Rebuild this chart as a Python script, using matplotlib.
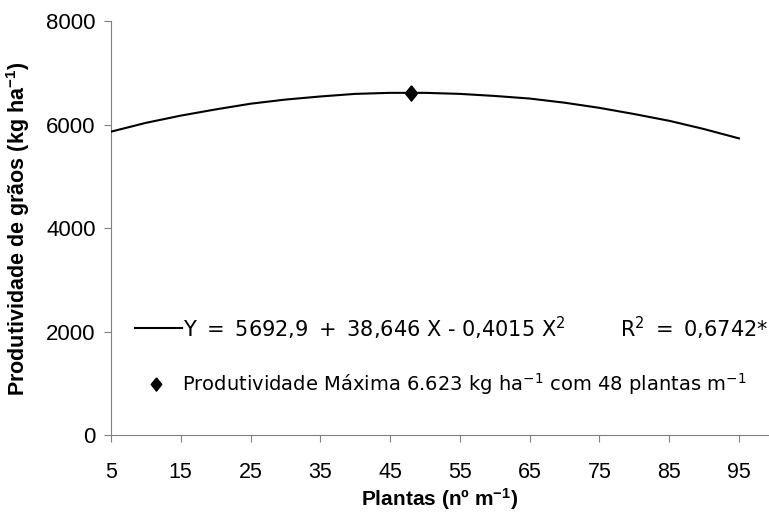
import matplotlib
matplotlib.use("Agg")
import matplotlib.pyplot as plt

# --- values ---
plantas = [5, 10, 15, 20, 25, 30, 35, 40, 45, 50, 55, 60, 65, 70, 75, 80, 85, 90, 95]
produtividade = [5870, 6040, 6180, 6300, 6410, 6490, 6550, 6600, 6620, 6620,
                 6600, 6560, 6510, 6430, 6330, 6210, 6080, 5920, 5740]
x_max, y_max = 48, 6623
xticks = [5, 15, 25, 35, 45, 55, 65, 75, 85, 95]
yticks = [0, 2000, 4000, 6000, 8000]

plt.rcParams["font.family"] = ["Liberation Sans", "DejaVu Sans"]
plt.rcParams["mathtext.fontset"] = "custom"
plt.rcParams["mathtext.rm"] = "Liberation Sans"

diamond = [(0, 1), (0.8, 0), (0, -1), (-0.8, 0), (0, 1)]

fig = plt.figure(figsize=(7.69, 5.15), dpi=100)
ax = fig.add_axes([0.1443, 0.1544, 0.8557, 0.804])

ax.plot(plantas, produtividade, color="black", lw=1.5, zorder=3)
ax.plot([x_max], [y_max], marker=diamond, color="black", ms=11, zorder=4)

ax.set_xlim(5, 99.3)
ax.set_ylim(0, 8000)
ax.set_xticks(xticks)
ax.set_yticks(yticks)
ax.tick_params(length=5, direction="out", color="#808080")
ax.tick_params(axis="x", pad=14)
ax.tick_params(axis="y", pad=6, labelsize=16)
for lbl in ax.get_xticklabels():
    lbl.set_family(["Liberation Sans Narrow", "Liberation Sans"])
    lbl.set_fontsize(15.5)
for s in ["top", "right"]:
    ax.spines[s].set_visible(False)
for s in ["left", "bottom"]:
    ax.spines[s].set_color("#808080")

ax.set_xlabel(r"Plantas (nº m$\mathregular{^{-1}}$)", fontsize=15, fontweight="bold", labelpad=2)
ax.set_ylabel(r"Produtividade de grãos (kg ha$\mathregular{^{-1}}$)", fontsize=15.5,
              fontweight="bold", labelpad=10)

# --- legend-like annotations ---
ann = dict(va="center", ha="left", family=["DejaVu Sans"])
ts = "\u2009"
ax.plot([8.4, 15.2], [2070, 2070], color="black", lw=1.5, clip_on=False)
ax.text(15.3, 2070, "Y " + ts + "=" + ts + " 5692,9 " + ts + "+" + ts
        + r" 38,646 X - 0,4015 X$\mathregular{^2}$", fontsize=15, **ann)
ax.text(77.9, 2070, r"R$\mathregular{^2}$ " + ts + "=" + ts + " 0,6742*", fontsize=15, **ann)
ax.plot([11.5], [990], marker=diamond, color="black", ms=9.5, clip_on=False)
ax.text(15.2, 990, r"Produtividade Máxima 6.623 kg ha$\mathregular{^{-1}}$ com 48 plantas m$\mathregular{^{-1}}$",
        fontsize=14, **ann)

fig.savefig("out.png", dpi=100)
